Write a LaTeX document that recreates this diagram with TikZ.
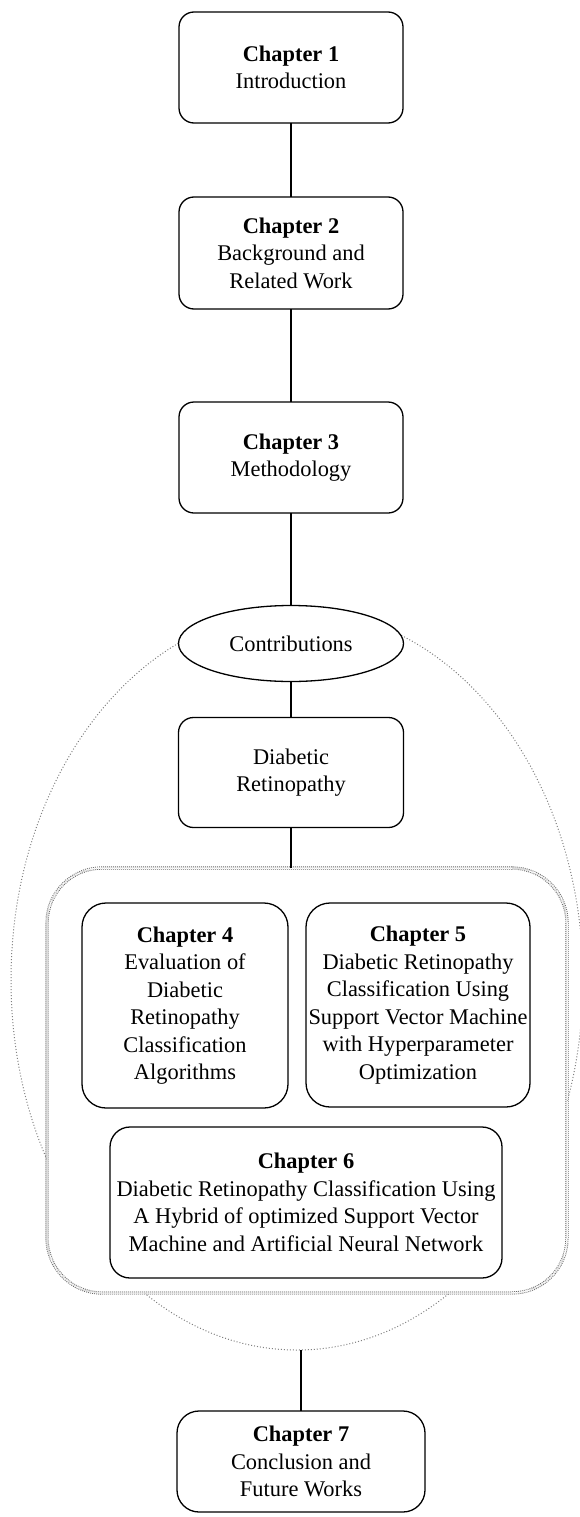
\documentclass[tikz,border=0pt]{standalone}
\usepackage{fontspec}
\setmainfont{Liberation Serif}
\usetikzlibrary{positioning,shapes.geometric}

\begin{document}
\begin{tikzpicture}[x=1pt,y=-1pt,
        every node/.style={font=\fontsize{22.4}{27.5}\selectfont,align=center,inner sep=0pt,outer sep=0pt},
        chap/.style={draw,line width=1.3pt,fill=white,rounded corners=15pt,minimum width=224pt,minimum height=111pt},
        bigchap/.style={chap,rounded corners=24pt},
        oval/.style={draw,line width=1.3pt,fill=white,ellipse,minimum width=225pt,minimum height=76pt},
        area/.style={draw=gray,ellipse,line width=1pt,dash pattern=on 1pt off 2pt,minimum width=572pt,minimum height=740pt},
        group/.style={draw=gray!80!black,fill=white,line width=0.9pt,double=white,double distance=1.5pt,dash pattern=on 0.9pt off 1.1pt,rounded corners=55pt,minimum width=520pt,minimum height=425pt},
        link/.style={line width=1.3pt}]
   \useasboundingbox (0,0) rectangle (579,1517);

   \node (area) [area] at (297,980) {};

   \node (ch1) [chap] at (291,67.5) {\textbf{Chapter 1}\\Introduction};
   \node (ch2) [chap, below=74pt of ch1, minimum height=112pt] {\textbf{Chapter 2}\\Background and\\Related Work};
   \node (ch3) [chap, below=93pt of ch2] {\textbf{Chapter 3}\\Methodology};
   \node (contrib) [oval, below=92.5pt of ch3] {Contributions};
   \node (dr) [chap, below=36pt of contrib, minimum width=225pt, minimum height=110pt] {Diabetic\\Retinopathy};

   \node (group) [group] at (307,1080.5) {};
   \node (ch4) [bigchap, minimum width=206pt, minimum height=205pt] at (185,1005.5)
        {\textbf{Chapter 4}\\Evaluation of\\Diabetic\\Retinopathy\\Classification\\Algorithms};
   \node (ch5) [bigchap, minimum width=224pt, minimum height=204pt] at (418,1005)
        {\textbf{Chapter 5}\\Diabetic Retinopathy\\Classification Using\\Support Vector Machine\\with Hyperparameter\\Optimization};
   \node (ch6) [chap, rounded corners=20pt, minimum width=392pt, minimum height=151pt] at (306,1202.5)
        {\textbf{Chapter 6}\\Diabetic Retinopathy Classification Using\\A Hybrid of optimized Support Vector\\Machine and Artificial Neural Network};

   \node (ch7) [chap, rounded corners=22pt, minimum width=248pt, minimum height=101pt] at (301,1461.5)
        {\textbf{Chapter 7}\\Conclusion and\\Future Works};

   \draw[link] (ch1) -- (ch2);
   \draw[link] (ch2) -- (ch3);
   \draw[link] (ch3) -- (contrib);
   \draw[link] (contrib) -- (dr);
   \draw[link] (dr) -- (dr |- group.north);
   \draw[link] (area.south -| ch7) -- (ch7);
\end{tikzpicture}
\end{document}
